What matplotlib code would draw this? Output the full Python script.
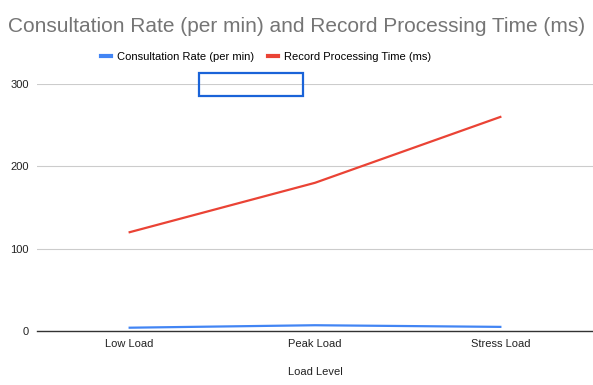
import matplotlib
matplotlib.use("Agg")
import matplotlib.pyplot as plt
from matplotlib.patches import Rectangle

# ── Data ─────────────────────────────────────────────────────────────────────
load_levels = ["Low Load", "Peak Load", "Stress Load"]
consultation_rate = [4, 7, 5]
processing_time = [120, 180, 260]
y_ticks = [0, 100, 200, 300]

plt.rcParams["font.family"] = ["Liberation Sans", "DejaVu Sans"]

fig = plt.figure(figsize=(5.93, 3.85), dpi=100)
ax = fig.add_axes([37 / 593, 1 - 331 / 385, 1 - 37 / 593, (331 - 84) / 385])

x = range(len(load_levels))
ax.plot(x, consultation_rate, color="#4285F4", lw=1.6, label="Consultation Rate (per min)")
ax.plot(x, processing_time, color="#EA4335", lw=1.6, label="Record Processing Time (ms)")

ax.set_xlim(-0.5, 2.5)
ax.set_ylim(0, 300)
ax.set_xticks(list(x))
ax.set_xticklabels(load_levels, fontsize=8, color="#222222")
ax.set_yticks(y_ticks)
ax.set_yticklabels([str(t) for t in y_ticks], fontsize=8, color="#222222")
ax.tick_params(length=0, pad=6)
ax.grid(True, axis="y", color="#cccccc", lw=0.8)
ax.set_axisbelow(True)
for s in ["top", "right", "left"]:
    ax.spines[s].set_visible(False)
ax.spines["bottom"].set_color("#333333")
ax.spines["bottom"].set_linewidth(1.0)
ax.set_xlabel("Load Level", fontsize=8, color="#222222", labelpad=13)

fig.text(0.5, 1 - 27 / 385, "Consultation Rate (per min) and Record Processing Time (ms)",
         ha="center", va="center", fontsize=15, color="#757575")
leg = ax.legend(loc="center", bbox_to_anchor=((266 - 37) / 556, (385 - 57 - 54) / (331 - 84)),
                bbox_transform=ax.transAxes, ncol=2, frameon=False, fontsize=8,
                handlelength=0.9, handletextpad=0.6, columnspacing=1.2)
for h in leg.get_lines():
    h.set_linewidth(3)

# selection box artefact from the screenshot
fig.patches.append(Rectangle((199 / 593, 1 - 96 / 385), 104 / 593, 23 / 385,
                             transform=fig.transFigure, fill=False,
                             edgecolor="#1a63d8", lw=1.6))

fig.savefig("out.png", dpi=100)
